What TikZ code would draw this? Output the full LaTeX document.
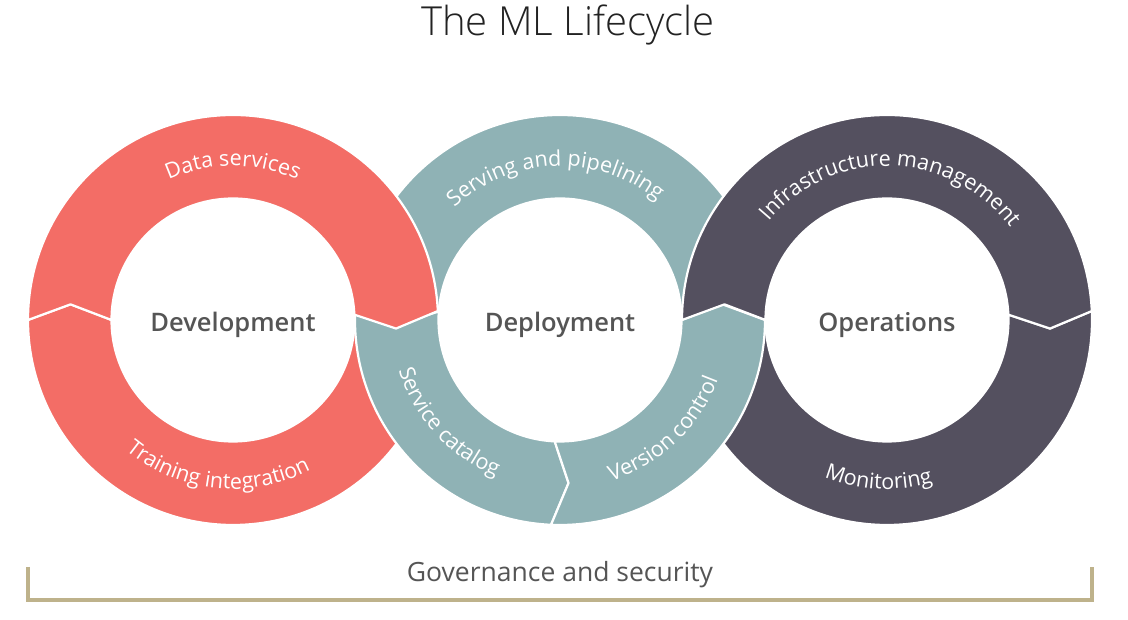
\documentclass[tikz,border=0pt]{standalone}
\usepackage{fontspec}
\setmainfont{Open Sans}
\newfontfamily\lightfont{Open Sans Light}
\newfontfamily\semifont{Open Sans Semibold}
\usetikzlibrary{calc,decorations.text}
\definecolor{mlred}{HTML}{F36D66}
\definecolor{mlteal}{HTML}{8FB2B5}
\definecolor{mldark}{HTML}{54505F}
\definecolor{mlgold}{HTML}{BEB28B}
\definecolor{mlgray}{HTML}{555555}
\definecolor{mltitle}{HTML}{222222}
\def\Ro{205}\def\Ri{121.5}\def\Rm{163.25}
\newcommand\seglab{\fontsize{21.5}{25}\selectfont}
% ring segment: center, start angle, end angle, signed chevron offset, colour
\newcommand{\mlseg}[5]{%
  \filldraw[fill=#5,segline] ($(#1)+(#2:\Ro)$) arc[start angle=#2,end angle=#3,radius=\Ro]
    -- ($(#1)+({#3+(#4)}:\Rm)$) -- ($(#1)+(#3:\Ri)$)
    arc[start angle=#3,end angle=#2,radius=\Ri]
    -- ($(#1)+({#2+(#4)}:\Rm)$) -- cycle;}
% label on top arc (clockwise): center, mid angle, half span, text
\newcommand{\toplabel}[4]{%
  \path[decorate,decoration={text along path,text={|\seglab|#4},text align=center,text color=white}]
    ($(#1)+({#2+#3}:154)$) arc[start angle={#2+#3},end angle={#2-#3},radius=154];}
% label on bottom arc (counter-clockwise)
\newcommand{\botlabel}[4]{%
  \path[decorate,decoration={text along path,text={|\seglab|#4},text align=center,text color=white}]
    ($(#1)+({#2-#3}:169)$) arc[start angle={#2-#3},end angle={#2+#3},radius=169];}
\begin{document}
\begin{tikzpicture}[x=1pt,y=1pt,
  segline/.style={draw=white,line width=2.2pt,line join=round},
  ctrlabel/.style={font=\semifont\fontsize{25.5}{30}\selectfont,text=mlgray,anchor=base,inner sep=0pt}]
\fill[white] (0,0) rectangle (1128,620);
\useasboundingbox (0,0) rectangle (1128,620);
\coordinate (L) at (233,300);
\coordinate (M) at (560,300);
\coordinate (R) at (887,300);
% back: middle top
\mlseg{M}{0}{176}{5.5}{mlteal}
% side bottoms
\mlseg{L}{362.5}{180}{-5.5}{mlred}
\mlseg{R}{362.5}{180}{-5.5}{mldark}
% middle lower
\mlseg{M}{176}{267.5}{5.5}{mlteal}
\mlseg{M}{267.5}{360}{5.5}{mlteal}
% side tops
\mlseg{L}{180}{2.5}{-5.5}{mlred}
\mlseg{R}{180}{2.5}{-5.5}{mldark}
% segment labels
\toplabel{L}{90}{75}{Data services}
\botlabel{L}{264}{70}{Training integration}
\toplabel{M}{92}{75}{Serving and pipelining}
\botlabel{M}{222.5}{60}{Service catalog}
\botlabel{M}{313.5}{60}{Version control}
\toplabel{R}{88.5}{80}{Infrastructure management}
\botlabel{R}{267}{60}{Monitoring}
% centre labels
\node[ctrlabel] (dev) at (233,288) {Development};
\node[ctrlabel] (dep) at (560,288) {Deployment};
\node[ctrlabel] (ops) at (887,288) {Operations};
% title
\node[font=\lightfont\fontsize{40}{47}\selectfont,text=mltitle,anchor=base,inner sep=0pt] (title) at (568,584) {The ML Lifecycle};
% governance bracket
\coordinate (bl) at (28,53);
\coordinate (br) at (1092,53);
\draw[mlgold,line width=3.5pt] (bl) -- ++(0,-33) -| (br);
\node[font=\fontsize{26.5}{31}\selectfont,text=mlgray,anchor=base,inner sep=0pt] (gov) at (560,38) {Governance and security};
\end{tikzpicture}
\end{document}
